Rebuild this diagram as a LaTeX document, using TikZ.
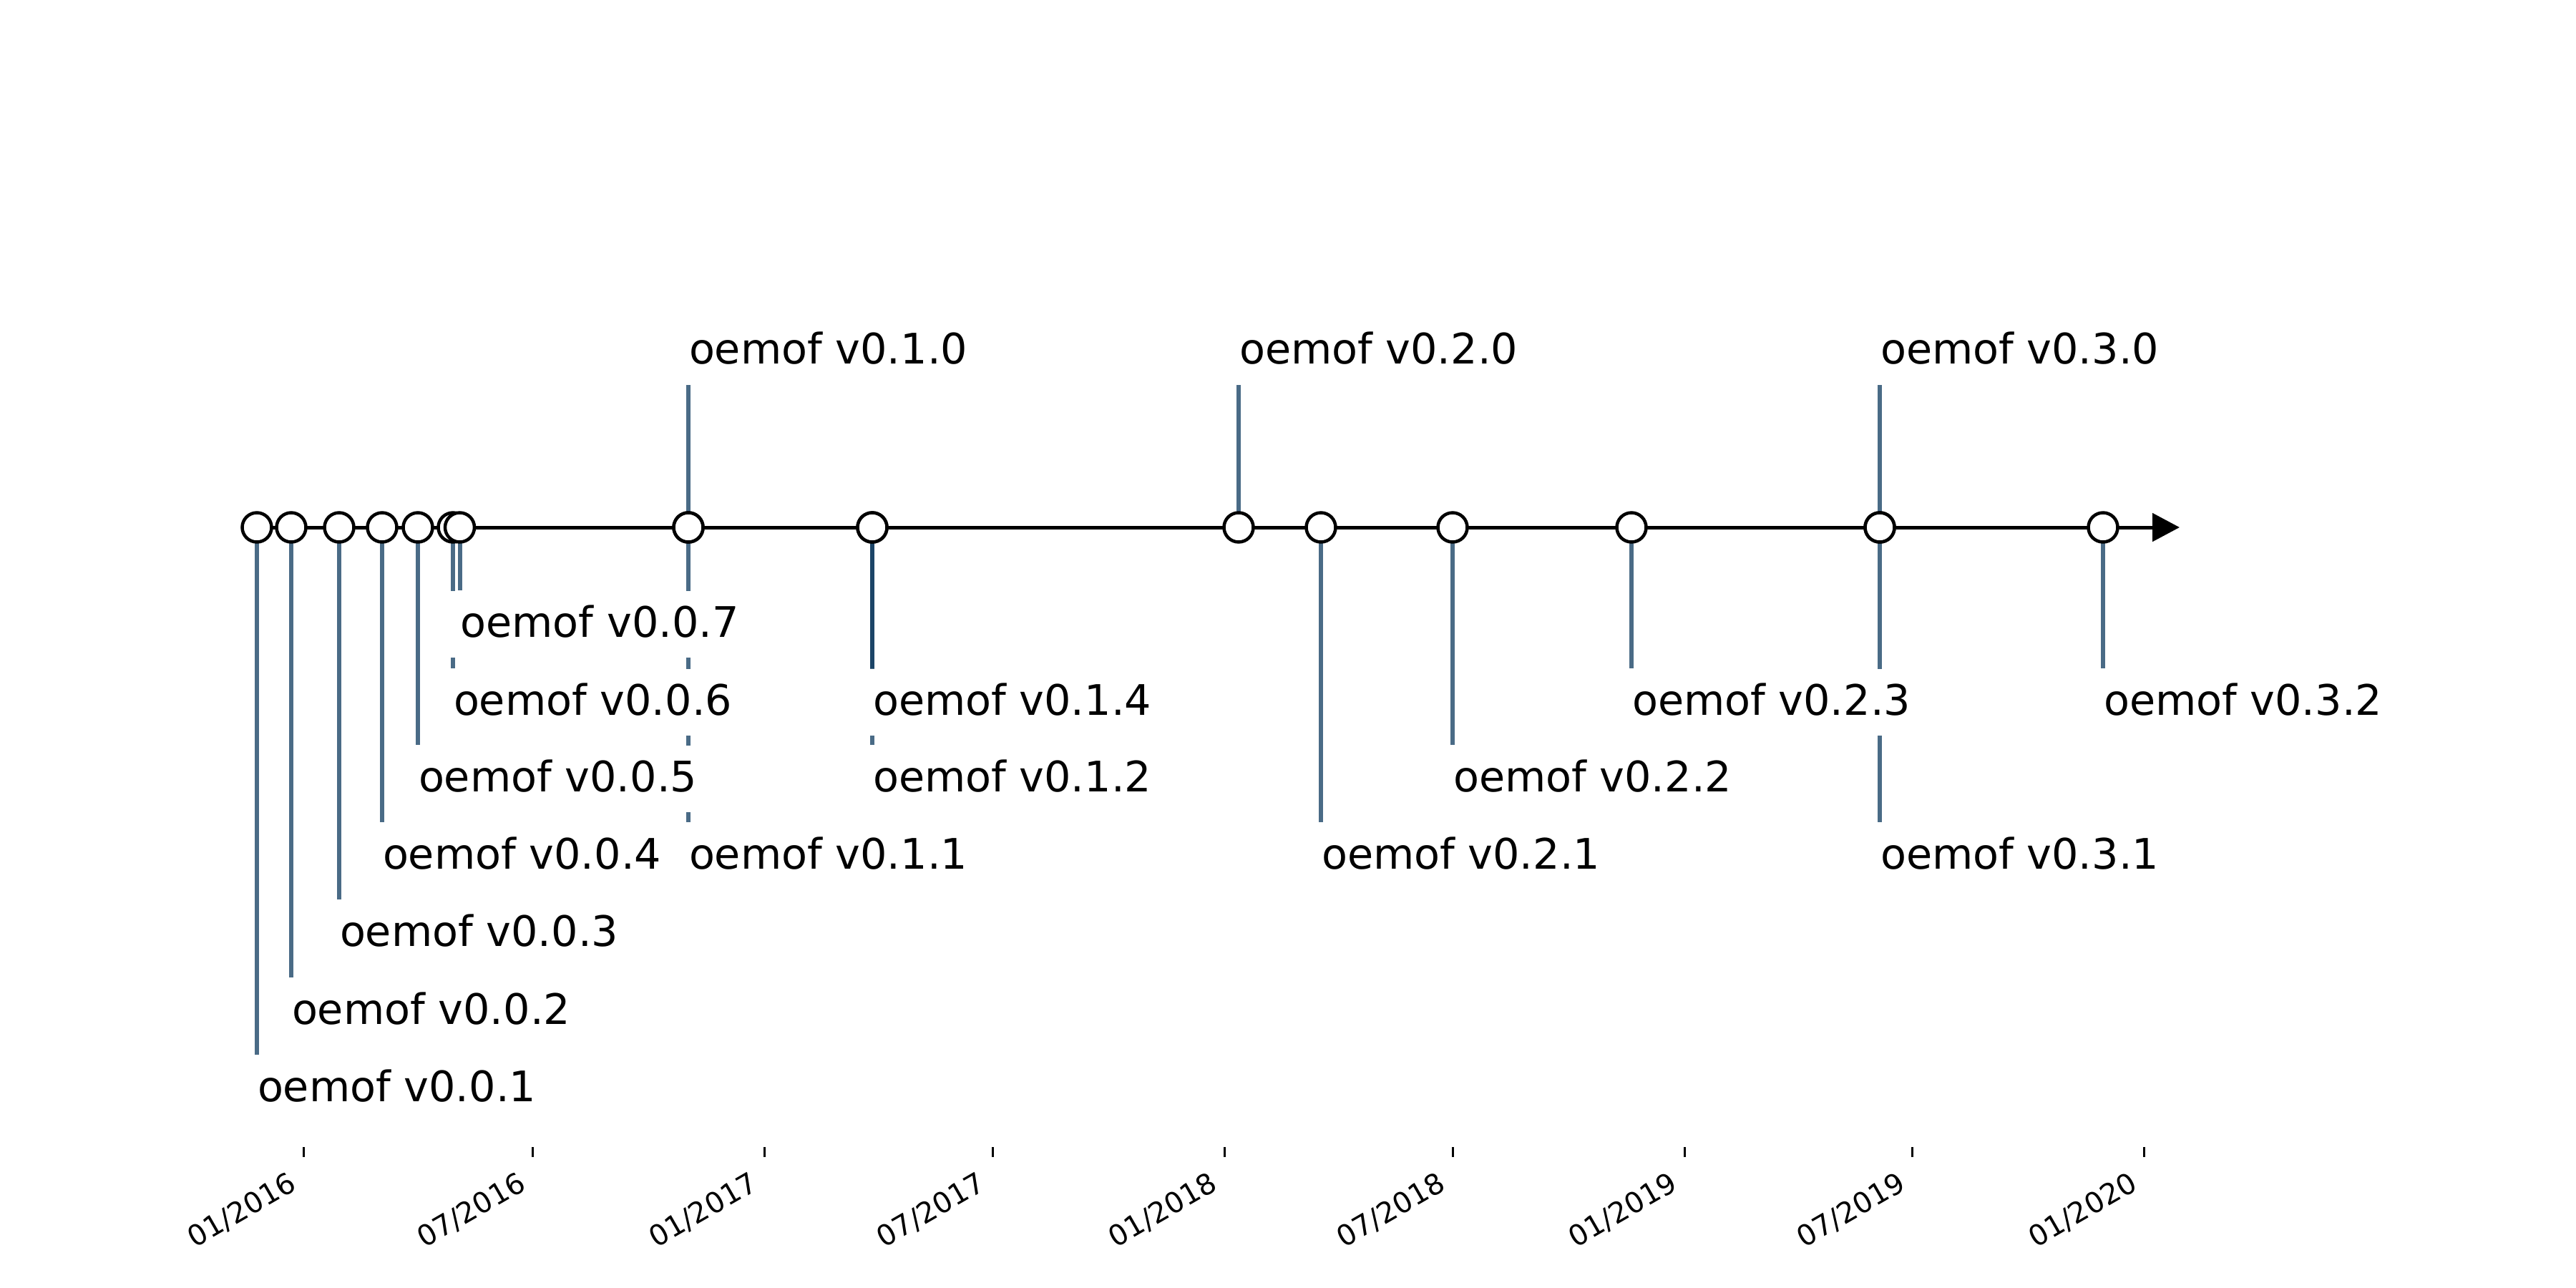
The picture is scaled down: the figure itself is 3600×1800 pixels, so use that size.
\documentclass[tikz,border=0pt]{standalone}
\usepackage{fontspec}
\setmainfont{DejaVu Sans}
\usetikzlibrary{arrows.meta}
\definecolor{stemc}{HTML}{0A365B}
\begin{document}
\begin{tikzpicture}[x=0.2pt,y=-0.2pt,
  stemline/.style={draw=stemc, draw opacity=0.736, line width=1.2pt},
  evt/.style={circle, draw=black, fill=white, line width=0.9pt, minimum size=8.2pt, inner sep=0pt},
  lab/.style={fill=white, inner xsep=2.8pt, inner ysep=3pt, text height=9.8pt, text depth=2.8pt, font=\fontsize{11.76pt}{14pt}\selectfont},
  dlab/.style={lab, anchor=north west, xshift=-2.8pt},
  ulab/.style={lab, anchor=south west, xshift=-2.8pt},
  tlab/.style={font=\fontsize{8pt}{9.5pt}\selectfont, rotate=30, anchor=base east, inner sep=0pt},
  tickmark/.style={draw=black, line width=0.6pt},
  axisline/.style={draw=black, line width=1pt, -{Triangle[length=7.6pt,width=7.8pt]}}
]
\useasboundingbox (0,0) rectangle (3600,1800);

% event points on the axis and stem ends
\coordinate (p01) at (359,737);   \coordinate (e01) at (359,1474);
\coordinate (p02) at (407,737);   \coordinate (e02) at (407,1366);
\coordinate (p03) at (474,737);   \coordinate (e03) at (474,1257);
\coordinate (p04) at (534,737);   \coordinate (e04) at (534,1149);
\coordinate (p05) at (584,737);   \coordinate (e05) at (584,1041);
\coordinate (p06) at (633,737);   \coordinate (e06) at (633,934);
\coordinate (p07) at (642.5,737); \coordinate (e07) at (642.5,825);
\coordinate (p10) at (962,737);   \coordinate (e10) at (962,538);
\coordinate (p11) at (962,737);   \coordinate (e11) at (962,1149);
\coordinate (p12) at (1219,737);  \coordinate (e12) at (1219,1041);
\coordinate (p14) at (1219,737);  \coordinate (e14) at (1219,934);
\coordinate (p20) at (1731,737);  \coordinate (e20) at (1731,538);
\coordinate (p21) at (1846,737);  \coordinate (e21) at (1846,1149);
\coordinate (p22) at (2030,737);  \coordinate (e22) at (2030,1041);
\coordinate (p23) at (2280,737);  \coordinate (e23) at (2280,934);
\coordinate (p30) at (2627,737);  \coordinate (e30) at (2627,538);
\coordinate (p31) at (2627,737);  \coordinate (e31) at (2627,1149);
\coordinate (p32) at (2939,737);  \coordinate (e32) at (2939,934);
\coordinate (tip) at (3046,737);

% stems
\foreach \i in {01,02,03,04,05,06,07,10,11,12,14,20,21,22,23,30,31,32}
  \draw[stemline] (p\i) -- (e\i);

% axis with arrow
\draw[axisline] (p01) -- (tip);

% event markers
\foreach \i in {01,02,03,04,05,06,07,10,11,12,14,20,21,22,23,30,31,32}
  \node[evt] (c\i) at (p\i) {};

% labels
\node[dlab] (l01) at (e01) {oemof v0.0.1};
\node[dlab] (l02) at (e02) {oemof v0.0.2};
\node[dlab] (l03) at (e03) {oemof v0.0.3};
\node[dlab] (l04) at (e04) {oemof v0.0.4};
\node[dlab] (l05) at (e05) {oemof v0.0.5};
\node[dlab] (l06) at (e06) {oemof v0.0.6};
\node[dlab] (l07) at (e07) {oemof v0.0.7};
\node[ulab] (l10) at (e10) {oemof v0.1.0};
\node[dlab] (l11) at (e11) {oemof v0.1.1};
\node[dlab] (l12) at (e12) {oemof v0.1.2};
\node[dlab] (l14) at (e14) {oemof v0.1.4};
\node[ulab] (l20) at (e20) {oemof v0.2.0};
\node[dlab] (l21) at (e21) {oemof v0.2.1};
\node[dlab] (l22) at (e22) {oemof v0.2.2};
\node[dlab] (l23) at (e23) {oemof v0.2.3};
\node[ulab] (l30) at (e30) {oemof v0.3.0};
\node[dlab] (l31) at (e31) {oemof v0.3.1};
\node[dlab] (l32) at (e32) {oemof v0.3.2};

% date ticks
\foreach \x/\t [count=\n] in {424.3/01\slash 2016,744.7/07\slash 2016,1068.7/01\slash 2017,1387.4/07\slash 2017,1711.4/01\slash 2018,2030.1/07\slash 2018,2354.1/01\slash 2019,2672.8/07\slash 2019,2996.7/01\slash 2020}{
  \coordinate (k\n) at (\x,1603);
  \draw[tickmark] (k\n) -- ++(0,14);
  \node[tlab] (t\n) at ([xshift=-1.34pt]\x,1661) {\t};
}
\end{tikzpicture}
\end{document}
